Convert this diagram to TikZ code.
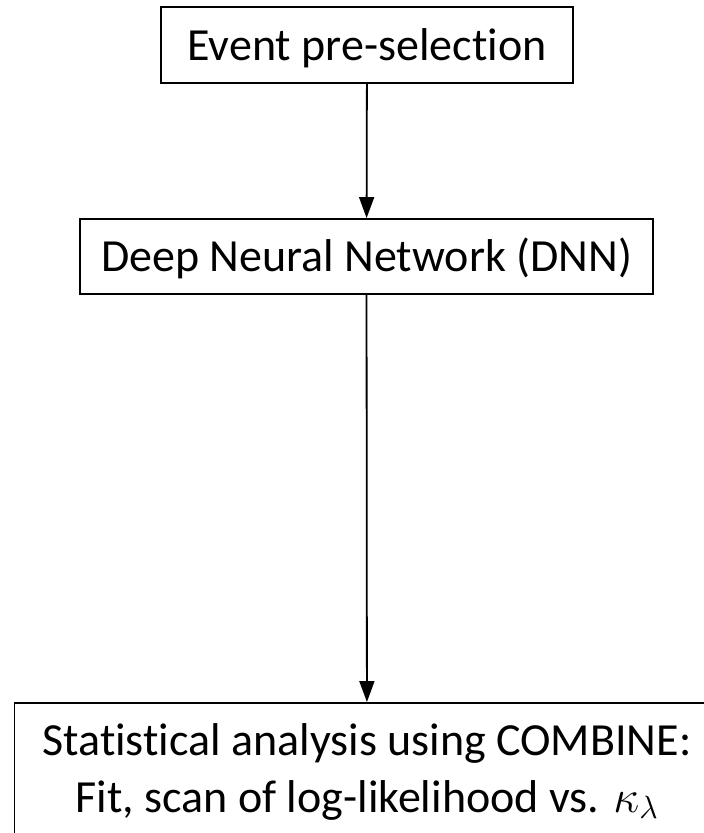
\RequirePackage{fix-cm}
\documentclass[tikz,border=0pt]{standalone}
\usepackage{fontspec}
\setmainfont{Carlito}[Ligatures=NoCommon]
\usetikzlibrary{arrows.meta}
\tikzset{
  box/.style={draw, line width=1.9pt, inner sep=0pt, text height=30pt, text depth=0pt,
    font=\fontsize{46}{57}\selectfont},
  lbl/.style={inner sep=0pt, anchor=base, font=\fontsize{46}{57}\selectfont},
  arr/.style={line width=1.8pt, -{Triangle[length=21pt,width=15pt]}}
}
\begin{document}
\begin{tikzpicture}[x=1pt,y=-1pt]
\useasboundingbox (0,0) rectangle (704,833);
\node[box, minimum width=412pt, minimum height=76pt] (a) at (367,45) {Event pre-selection};
\node[box, minimum width=573pt, minimum height=75pt] (b) at (366.5,256.5) {Deep Neural Network (DNN)};
\node[draw, line width=1.9pt, inner sep=0pt, minimum width=705pt, minimum height=150pt, anchor=north] (c) at (367,702) {};
\node[lbl] (c1) at (367,755) {Statistical analysis using COMBINE:};
\node[lbl] (c2) at (367,812) {Fit, scan of log-likelihood vs. $\kappa_\lambda$};
\draw[arr] (a) -- (b);
\draw[arr] (b) -- (c);
\end{tikzpicture}
\end{document}
